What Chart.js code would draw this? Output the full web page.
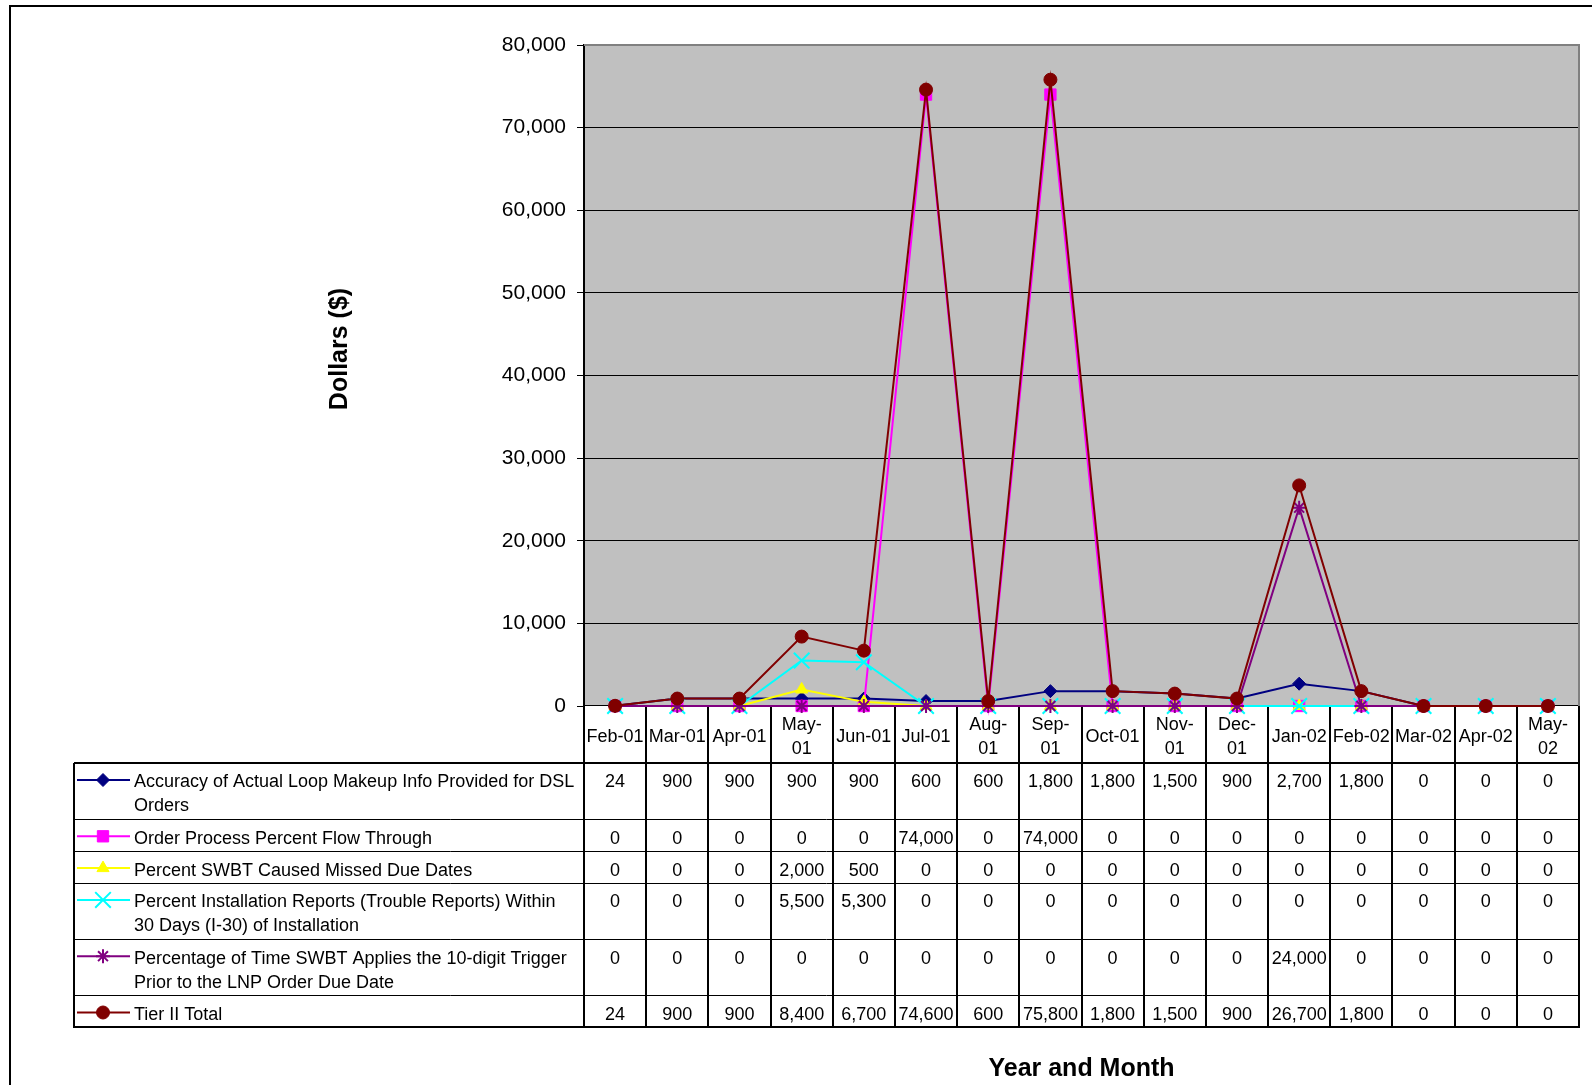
<!DOCTYPE html>
<html>
<head>
<meta charset="utf-8">
<title>Tier II Dollars by Month</title>
<script src="https://cdn.jsdelivr.net/npm/chart.js@4.4.1/dist/chart.umd.min.js"></script>
<style>
  html, body { margin: 0; padding: 0; background: #fff; }
  #wrap { width: 1592px; height: 1085px; position: relative; }
</style>
</head>
<body>
<div id="wrap"><canvas id="c" width="1592" height="1085"></canvas></div>
<script>
// ---- data ----
const months = ['Feb-01', 'Mar-01', 'Apr-01', ['May-', '01'], 'Jun-01', 'Jul-01', ['Aug-', '01'], ['Sep-', '01'],
                'Oct-01', ['Nov-', '01'], ['Dec-', '01'], 'Jan-02', 'Feb-02', 'Mar-02', 'Apr-02', ['May-', '02']];

const loopMakeup      = [24, 900, 900, 900, 900, 600, 600, 1800, 1800, 1500, 900, 2700, 1800, 0, 0, 0];
const flowThrough     = [0, 0, 0, 0, 0, 74000, 0, 74000, 0, 0, 0, 0, 0, 0, 0, 0];
const missedDueDates  = [0, 0, 0, 2000, 500, 0, 0, 0, 0, 0, 0, 0, 0, 0, 0, 0];
const troubleReports  = [0, 0, 0, 5500, 5300, 0, 0, 0, 0, 0, 0, 0, 0, 0, 0, 0];
const tenDigitTrigger = [0, 0, 0, 0, 0, 0, 0, 0, 0, 0, 0, 24000, 0, 0, 0, 0];
const tierTotal       = [24, 900, 900, 8400, 6700, 74600, 600, 75800, 1800, 1500, 900, 26700, 1800, 0, 0, 0];

const seriesNames = [
  ['Accuracy of Actual Loop Makeup Info Provided for DSL', 'Orders'],
  ['Order Process Percent Flow Through'],
  ['Percent SWBT Caused Missed Due Dates'],
  ['Percent Installation Reports (Trouble Reports) Within', '30 Days (I-30) of Installation'],
  ['Percentage of Time SWBT Applies the 10-digit Trigger', 'Prior to the LNP Order Due Date'],
  ['Tier II Total']
];

const yMin = 0, yMax = 80000, yStep = 10000;
const yTitle = 'Dollars ($)';
const xTitle = 'Year and Month';

// ---- styling ----
const FONT = '"Liberation Sans", Arial, Helvetica, sans-serif';
const TABLE_FONT = '18px ' + FONT;
const seriesStyles = [
  { color: '#000080', pointStyle: 'rectRot',  radius: 6.5, bw: 1 },
  { color: '#FF00FF', pointStyle: 'rect',     radius: 8,   bw: 1 },
  { color: '#FFFF00', pointStyle: 'triangle', radius: 7,   bw: 1 },
  { color: '#00FFFF', pointStyle: 'crossRot', radius: 11,  bw: 2 },
  { color: '#800080', pointStyle: 'star',     radius: 7,   bw: 2 },
  { color: '#800000', pointStyle: 'circle',   radius: 6.5, bw: 1 }
];
const seriesValues = [loopMakeup, flowThrough, missedDueDates, troubleReports, tenDigitTrigger, tierTotal];

const fmt = v => v.toLocaleString('en-US');
const monthText = m => Array.isArray(m) ? m : [m];

const datasets = seriesValues.map((vals, i) => {
  const s = seriesStyles[i];
  return {
    label: seriesNames[i].join(' '),
    data: vals,
    borderColor: s.color,
    backgroundColor: s.color,
    borderWidth: 2,
    pointStyle: s.pointStyle,
    pointRadius: s.radius,
    pointBorderWidth: s.bw,
    pointBorderColor: s.color,
    pointBackgroundColor: s.color,
    tension: 0,
    clip: false,
    order: seriesValues.length - i
  };
});

function drawMarker(ctx, style, x, y) {
  ctx.fillStyle = style.color;
  ctx.strokeStyle = style.color;
  ctx.lineWidth = style.bw;
  Chart.helpers.drawPoint(ctx, { pointStyle: style.pointStyle, radius: style.radius, rotation: 0, borderWidth: style.bw }, x, y);
}

// Background, plot frame, vertical axis title and the data table beneath the plot
const tablePlugin = {
  id: 'dataTable',
  beforeDraw(chart) {
    const { ctx, chartArea: a } = chart;
    ctx.save();
    ctx.fillStyle = '#ffffff';
    ctx.fillRect(0, 0, chart.width, chart.height);
    ctx.strokeStyle = '#000';
    ctx.lineWidth = 2;
    ctx.strokeRect(10, 6, chart.width + 40, chart.height + 40);
    ctx.fillStyle = '#C0C0C0';
    ctx.fillRect(a.left, a.top, a.right - a.left, a.bottom - a.top);

    // vertical axis title
    ctx.translate(340, 349);
    ctx.rotate(-Math.PI / 2);
    ctx.fillStyle = '#000';
    ctx.font = 'bold 25px ' + FONT;
    ctx.textAlign = 'center';
    ctx.textBaseline = 'middle';
    ctx.fillText(yTitle, 0, 0);
    ctx.restore();
  },
  beforeDatasetsDraw(chart) {
    const { ctx, chartArea: a } = chart;
    const xs = chart.scales.x;
    const n = months.length;
    ctx.save();

    // gray frame on top and right of plot
    ctx.strokeStyle = '#808080';
    ctx.lineWidth = 2;
    ctx.beginPath();
    ctx.moveTo(a.left, a.top);
    ctx.lineTo(a.right, a.top);
    ctx.lineTo(a.right, a.bottom);
    ctx.stroke();

    // column edges
    const edges = [];
    for (let i = 0; i <= n; i++) {
      if (i === 0) edges.push(a.left);
      else if (i === n) edges.push(a.right);
      else edges.push((xs.getPixelForValue(i - 1) + xs.getPixelForValue(i)) / 2);
    }
    const legendLeft = 74;
    const headTop = a.bottom;
    const headBottom = headTop + 57;
    const rowTops = [headBottom];
    seriesNames.forEach(lines => rowTops.push(rowTops[rowTops.length - 1] + 7.3 + 24.5 * lines.length));
    const tableBottom = rowTops[rowTops.length - 1];

    ctx.fillStyle = '#fff';
    ctx.fillRect(legendLeft, headBottom, a.right - legendLeft, tableBottom - headBottom);
    ctx.fillRect(a.left, headTop, a.right - a.left, headBottom - headTop);

    // header labels
    ctx.fillStyle = '#000';
    ctx.font = TABLE_FONT;
    ctx.textAlign = 'center';
    ctx.textBaseline = 'middle';
    const headMid = (headTop + headBottom) / 2 + 3;
    months.forEach((m, i) => {
      const lines = monthText(m);
      const cx = xs.getPixelForValue(i);
      lines.forEach((t, k) => {
        ctx.fillText(t, cx, headMid + (k - (lines.length - 1) / 2) * 24);
      });
    });

    // rows: legend key, name, values
    seriesNames.forEach((lines, r) => {
      const top = rowTops[r];
      const style = seriesStyles[r];
      const ky = top + 17;
      ctx.strokeStyle = style.color;
      ctx.lineWidth = 2;
      ctx.beginPath();
      ctx.moveTo(77, ky);
      ctx.lineTo(130, ky);
      ctx.stroke();
      drawMarker(ctx, style, 103, ky);

      ctx.fillStyle = '#000';
      ctx.font = TABLE_FONT;
      ctx.textAlign = 'left';
      ctx.textBaseline = 'middle';
      lines.forEach((t, k) => ctx.fillText(t, 134, top + 19.5 + k * 24));

      ctx.textAlign = 'center';
      seriesValues[r].forEach((v, i) => {
        ctx.fillText(fmt(v), xs.getPixelForValue(i), top + 19.5);
      });
    });

    // grid lines of the table
    ctx.strokeStyle = '#000';
    ctx.lineWidth = 1;
    ctx.beginPath();
    for (let r = 1; r < rowTops.length - 1; r++) {
      ctx.moveTo(legendLeft, Math.round(rowTops[r]) + 0.5);
      ctx.lineTo(a.right, Math.round(rowTops[r]) + 0.5);
    }
    ctx.stroke();

    ctx.lineWidth = 2;
    ctx.beginPath();
    ctx.moveTo(legendLeft, headBottom);
    ctx.lineTo(a.right + 1, headBottom);
    ctx.moveTo(legendLeft - 1, Math.round(tableBottom));
    ctx.lineTo(a.right + 1, Math.round(tableBottom));
    ctx.moveTo(legendLeft, headBottom);
    ctx.lineTo(legendLeft, tableBottom);
    edges.forEach(ex => {
      const xx = Math.round(ex);
      ctx.moveTo(xx, headTop);
      ctx.lineTo(xx, tableBottom);
    });
    ctx.stroke();
    ctx.restore();
  }
};

Chart.defaults.font.family = FONT;
Chart.defaults.color = '#000';

new Chart(document.getElementById('c'), {
  type: 'line',
  data: { labels: months, datasets: datasets },
  options: {
    responsive: false,
    maintainAspectRatio: false,
    devicePixelRatio: 1,
    animation: false,
    events: [],
    layout: { padding: { left: 325, top: 45, right: 11, bottom: 0 } },
    plugins: { legend: { display: false }, tooltip: { enabled: false } },
    scales: {
      x: {
        type: 'category',
        offset: true,
        ticks: { display: false },
        grid: { display: false, drawTicks: false },
        border: { display: true, color: '#000', width: 2 },
        title: {
          display: true,
          text: xTitle,
          color: '#000',
          font: { size: 25, weight: 'bold', family: FONT },
          padding: { top: 0, bottom: 1 }
        },
        afterFit(scale) { scale.height = 379; }
      },
      y: {
        min: yMin,
        max: yMax,
        ticks: {
          stepSize: yStep,
          color: '#000',
          padding: 11,
          font: { size: 21, family: FONT },
          callback: v => fmt(v)
        },
        grid: { color: '#000', lineWidth: 1, tickLength: 7, tickColor: '#000', drawTicks: true },
        border: { display: true, color: '#000', width: 2 },
        afterFit(scale) { scale.width = 259; }
      }
    }
  },
  plugins: [tablePlugin]
});
</script>
</body>
</html>
